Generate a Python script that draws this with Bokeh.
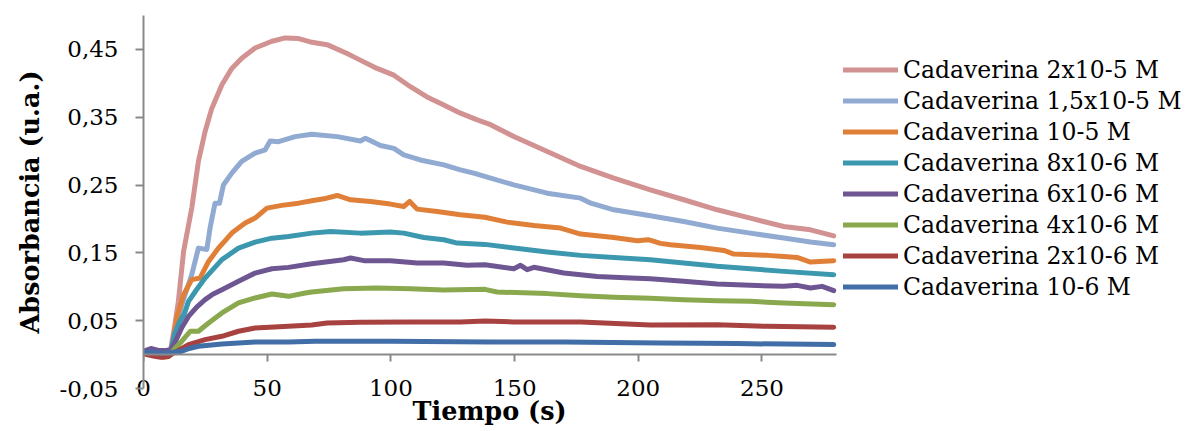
from bokeh.plotting import figure
from bokeh.models import (Range1d, FixedTicker, CustomJSTickFormatter, Legend, LegendItem,
                          LinearAxis, Title)
from bokeh.embed import file_html
from bokeh.resources import INLINE

# ---- data ----
labels = ["Cadaverina 2x10-5 M", "Cadaverina 1,5x10-5 M", "Cadaverina 10-5 M",
          "Cadaverina 8x10-6 M", "Cadaverina 6x10-6 M", "Cadaverina 4x10-6 M",
          "Cadaverina 2x10-6 M", "Cadaverina 10-6 M"]

t_2e5 = [0, 4, 8, 10.8, 12.5, 14.1, 16.2, 19.5, 22.2, 24.9, 27.6, 31.7, 35.7, 39.7, 45.1, 51.9, 57.3,
         62.7, 67.5, 74.2, 82.3, 85, 94.4, 101.2, 107.9, 114.6, 121.4, 128.1, 134.9, 140.3, 149.7,
         163.2, 176.7, 190.1, 204.9, 218.4, 231.9, 245.3, 258.8, 269.6, 279]
a_2e5 = [0.003, 0.002, 0.002, 0.004, 0.04, 0.0785, 0.152, 0.216, 0.285, 0.329, 0.363, 0.398, 0.422,
         0.437, 0.452, 0.462, 0.467, 0.466, 0.461, 0.457, 0.444, 0.439, 0.422, 0.412, 0.395, 0.380,
         0.368, 0.356, 0.346, 0.339, 0.3215, 0.2994, 0.2774, 0.2601, 0.243, 0.2283, 0.2135, 0.2012,
         0.1889, 0.184, 0.175]

t_15e5 = [0, 4, 8, 11, 13, 15.5, 19.5, 22.2, 25.6, 26.9, 28.9, 30.7, 32.3, 35.7, 39.7, 45.1, 49.2,
          51.2, 54.6, 61.3, 68, 78.3, 87.7, 89.7, 95.8, 101.2, 105.2, 111.9, 121.4, 128.1, 133.5,
          140.3, 149.7, 163.2, 176.7, 180.8, 190.1, 204.9, 218.4, 231.9, 245.3, 258.8, 269.6, 279]
a_15e5 = [0.004, 0.003, 0.003, 0.005, 0.035, 0.0736, 0.118, 0.157, 0.155, 0.1865, 0.223, 0.223, 0.250,
          0.2675, 0.285, 0.297, 0.302, 0.315, 0.314, 0.3214, 0.325, 0.3214, 0.315, 0.319, 0.3083,
          0.304, 0.2945, 0.287, 0.2798, 0.2724, 0.2675, 0.2601, 0.2503, 0.238, 0.2307, 0.2233,
          0.2135, 0.2046, 0.1963, 0.1865, 0.1791, 0.1718, 0.1659, 0.162]

t_1e5 = [0, 4, 8, 10, 11.5, 13.5, 16.2, 19.5, 22.9, 26.3, 30.3, 35.7, 41.1, 45.1, 49.9, 55.9, 62.7,
         68, 72.9, 78.3, 83.7, 91.8, 99.8, 105.2, 107.6, 110.6, 118.7, 128.1, 138, 147, 157.8, 168.6,
         176.7, 190.1, 199.6, 204, 209, 213, 225.2, 234.6, 238.6, 252.1, 258.8, 264.2, 269.6, 279]
a_1e5 = [0.002, 0.0, -0.004, -0.003, 0.01, 0.055, 0.0884, 0.1105, 0.113, 0.1374, 0.157, 0.1792,
         0.1939, 0.2013, 0.216, 0.22, 0.2233, 0.2268, 0.2297, 0.2346, 0.2282, 0.2258, 0.2219, 0.2184,
         0.2258, 0.2145, 0.211, 0.2061, 0.2025, 0.1953, 0.1904, 0.1865, 0.1777, 0.1728, 0.1679,
         0.1694, 0.1640, 0.162, 0.158, 0.1536, 0.1482, 0.1463, 0.1448, 0.1433, 0.1365, 0.1384]

t_8e6 = [0, 4, 8, 11, 12.5, 14.5, 16.5, 18.2, 21.5, 24.9, 31.7, 38.4, 45.1, 51.9, 58.6, 68, 75.6,
         87.7, 99.8, 105.2, 113.3, 121.4, 126.8, 138, 149.7, 163.2, 176.7, 190.1, 204.9, 218.4,
         231.9, 245.3, 258.8, 279]
a_8e6 = [0.004, 0.002, 0.002, 0.004, 0.03, 0.048, 0.06, 0.0785, 0.096, 0.1128, 0.140, 0.157, 0.1658,
         0.1717, 0.1742, 0.1791, 0.1816, 0.1791, 0.1806, 0.1791, 0.1727, 0.1693, 0.1644, 0.1625,
         0.1571, 0.1512, 0.1463, 0.1433, 0.1399, 0.1350, 0.1301, 0.1266, 0.1227, 0.1178]

t_6e6 = [0, 3, 6, 9, 11, 13, 15.5, 18.2, 21.5, 24.9, 28, 31.7, 38.4, 45.1, 51.9, 58.6, 68, 80.9,
         83.7, 89.1, 99.8, 110.6, 121.4, 130.8, 138, 149.7, 152.4, 155.1, 157.8, 169.9, 183.4,
         196.9, 204.9, 218.4, 231.9, 245.3, 258.8, 264.2, 269.6, 274.3, 279]
a_6e6 = [0.005, 0.009, 0.006, 0.006, 0.007, 0.02, 0.04, 0.0564, 0.07, 0.081, 0.089, 0.0957, 0.108,
         0.1202, 0.1266, 0.1286, 0.1340, 0.1399, 0.1424, 0.1385, 0.1385, 0.1350, 0.1350, 0.1316,
         0.1325, 0.1266, 0.1316, 0.1252, 0.1287, 0.1202, 0.1153, 0.1129, 0.1120, 0.1080, 0.1040,
         0.1021, 0.1006, 0.1021, 0.0982, 0.1006, 0.0943]

t_4e6 = [0, 4, 8, 11, 13, 15.5, 18.9, 22.2, 26.3, 31.7, 38.4, 45.1, 51.9, 58.6, 65.4, 68, 80.9, 94.4,
         107.9, 121.4, 138, 142.9, 163.2, 176.7, 190.1, 204.9, 218.4, 231.9, 245.3, 258.8, 279]
a_4e6 = [0.002, 0.001, 0.0, 0.002, 0.01, 0.0197, 0.0344, 0.0344, 0.0466, 0.0614, 0.0761, 0.0835,
         0.0894, 0.0859, 0.0908, 0.0923, 0.0972, 0.0982, 0.0972, 0.0952, 0.0962, 0.0923, 0.0899,
         0.0869, 0.0845, 0.0830, 0.0810, 0.0795, 0.0785, 0.0761, 0.0736]

t_2e6 = [0, 4, 7, 10, 12, 15, 18.2, 24.9, 31.7, 38.4, 45.1, 58.6, 68, 74.2, 87.7, 107.9, 128.1, 138,
         149.7, 176.7, 204.9, 231.9, 252.1, 279]
a_2e6 = [0.001, -0.002, -0.004, -0.003, 0.002, 0.008, 0.0147, 0.022, 0.027, 0.0344, 0.0393, 0.0417,
         0.0437, 0.0466, 0.0476, 0.0481, 0.0481, 0.0495, 0.0481, 0.0481, 0.0436, 0.0441, 0.0417, 0.0402]

t_1e6 = [0, 4, 8, 11, 15.5, 18.5, 22.2, 31.7, 45.1, 58.6, 69.4, 100, 140.3, 170, 209, 240, 279]
a_1e6 = [0.004, 0.003, 0.002, 0.003, 0.005, 0.009, 0.0123, 0.0157, 0.0187, 0.0187, 0.0196, 0.0196,
         0.0187, 0.0186, 0.0172, 0.0162, 0.0147]

colors = ["#D29291", "#91AAD2", "#E08038", "#3C98AF", "#6E5692", "#8AA84E", "#A84240", "#426EA8"]

x_ticks = [0, 50, 100, 150, 200, 250]
y_ticks = [-0.05, 0.05, 0.15, 0.25, 0.35, 0.45]
x_end = 280

series_t = [t_2e5, t_15e5, t_1e5, t_8e6, t_6e6, t_4e6, t_2e6, t_1e6]
series_a = [a_2e5, a_15e5, a_1e5, a_8e6, a_6e6, a_4e6, a_2e6, a_1e6]

FONT = "DejaVu Serif"
AXIS_COLOR = "#898989"

# frame runs to the right edge so the legend is not clipped; axes are bounded to 0..280
PLOT_W, LEFT = 1185, 143
px_per_s = 692.7 / x_end
x_view_end = (PLOT_W - LEFT) / px_per_s

p = figure(width=PLOT_W, height=431, output_backend="svg", toolbar_location=None,
           x_range=Range1d(0, x_view_end), y_range=Range1d(-0.05, 0.5),
           min_border_left=LEFT, min_border_right=0, min_border_top=15, min_border_bottom=43)
p.outline_line_color = None
p.xgrid.visible = False
p.ygrid.visible = False
p.background_fill_color = "white"
p.border_fill_color = "white"

items = []
for t, a, c, lab in zip(series_t, series_a, colors, labels):
    r = p.line(t, a, line_color=c, line_width=5, line_join="round", line_cap="round")
    items.append(LegendItem(label=lab, renderers=[r]))

# bottom axis: tick labels only (Excel "low" label position)
xa = p.xaxis[0]
xa.bounds = (0, x_end)
xa.ticker = FixedTicker(ticks=x_ticks)
xa.axis_line_color = None
xa.major_tick_line_color = None
xa.major_tick_out = 0
xa.major_tick_in = 0
xa.minor_tick_line_color = None
xa.minor_tick_out = 0
xa.minor_tick_in = 0
xa.major_label_standoff = -9
xa.major_label_text_font = FONT
xa.major_label_text_font_size = "23px"
xa.major_label_text_color = "black"

# axis line and ticks drawn at y = 0
x0 = LinearAxis(fixed_location=0, ticker=FixedTicker(ticks=x_ticks), bounds=(0, x_end),
                axis_line_color=AXIS_COLOR, axis_line_width=2,
                major_tick_line_color=AXIS_COLOR, major_tick_line_width=2,
                major_tick_out=7, major_tick_in=0,
                minor_tick_line_color=None, major_label_text_alpha=0,
                major_label_text_font_size="1px")
p.add_layout(x0, "below")

# x axis title, centred under the 0..280 span
x_title = Title(text="Tiempo (s)", align="left", offset=269, vertical_align="top", standoff=-6,
                text_font=FONT, text_font_style="bold", text_font_size="25.5px",
                text_color="black")
p.add_layout(x_title, "below")

ya = p.yaxis[0]
ya.ticker = FixedTicker(ticks=y_ticks)
ya.formatter = CustomJSTickFormatter(code="return tick.toFixed(2).replace('.', ',');")
ya.axis_line_color = AXIS_COLOR
ya.axis_line_width = 2
ya.major_tick_line_color = AXIS_COLOR
ya.major_tick_line_width = 2
ya.major_tick_out = 8
ya.major_tick_in = 0
ya.minor_tick_line_color = None
ya.major_label_standoff = 17
ya.major_label_text_font = FONT
ya.major_label_text_font_size = "23px"
ya.major_label_text_color = "black"
ya.axis_label = "Absorbancia (u.a.)"
ya.axis_label_text_font = FONT
ya.axis_label_text_font_style = "bold"
ya.axis_label_text_font_size = "25.5px"
ya.axis_label_text_color = "black"
ya.axis_label_standoff = 12

legend = Legend(items=items, location=(700, 86), margin=0, padding=0, spacing=0,
                glyph_width=55, glyph_height=31, label_height=31, label_standoff=5,
                label_text_font=FONT, label_text_font_size="23.5px", label_text_color="black",
                border_line_color=None, background_fill_alpha=0)
p.add_layout(legend, "center")

open("out.html", "w").write(file_html(p, INLINE))
